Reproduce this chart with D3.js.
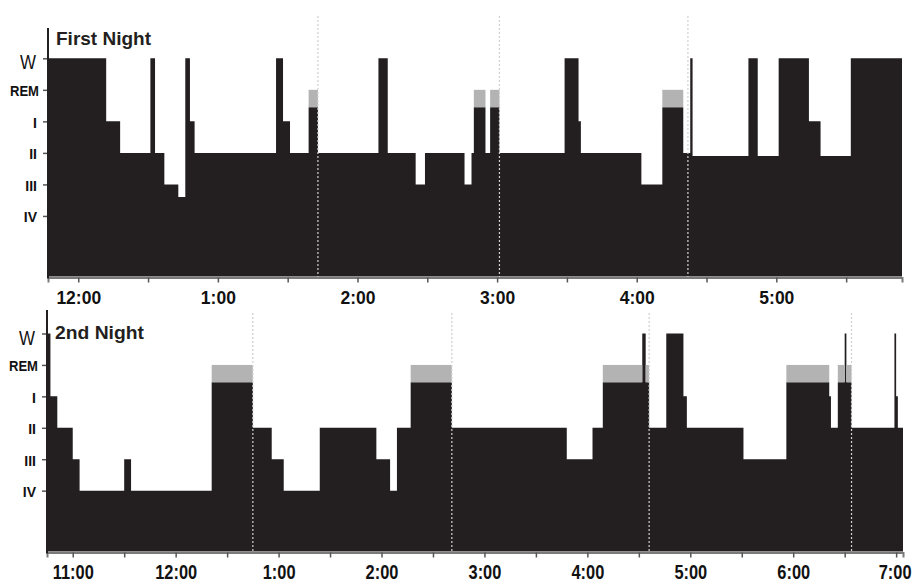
<!DOCTYPE html>
<html><head><meta charset="utf-8">
<script src="https://cdn.jsdelivr.net/npm/d3@7"></script>
<style>html,body{margin:0;padding:0;background:#fff;} svg{display:block;}</style>
</head><body>
<svg id="chart" width="919" height="581"></svg>
<script>
// ---- data ----
const stageLabels = ["IV", "III", "II", "I", "REM", "W"];
const stageLevels = [2, 3, 4, 5, 6, 7];

const night1Title = "First Night";
const night1Times = ["23:47","00:12","00:18","00:31","00:33","00:37","00:43","00:46","00:48","00:50",
  "01:25","01:28","01:31","01:39","01:43","02:09","02:13","02:25","02:29","02:46","02:49","02:50",
  "02:55","02:57","03:01","03:29","03:35","03:36","04:02","04:11","04:20","04:23","04:24","04:48",
  "04:52","05:01","05:14","05:19","05:32"];
const night1Stages = [7,5,4,7,4,3,2.6,7,5,4,
  7,5,4,6,4,7,4,3,4,3,4,6,
  4,6,4,7,5,4,3,6,4,7,3.9,7,
  3.9,7,5,3.9,7];
const night1End = "05:54";
const night1Cycles = ["01:43","03:01","04:22"];

const night2Title = "2nd Night";
const night2Times = ["22:45","22:47","22:51","23:00","23:04","23:30","23:34","00:21","00:45","00:56",
  "01:03","01:24","01:57","02:05","02:09","02:17","02:41","03:48","04:03","04:09","04:32","04:34",
  "04:36","04:46","04:56","04:58","05:31","05:56","06:21","06:22","06:26","06:30","06:31","06:34",
  "06:59","07:00","07:01"];
const night2Stages = [7,5,4,3,2,3,2,6,4,3,
  2,4,3,2,4,6,4,3,4,6,7,6,
  4,7,5,4,3,6,5,4,6,7,6,4,
  7,5,4];
const night2End = "07:04";
const night2Cycles = ["00:45","02:41","04:36","06:34"];

// ---- style ----
const BLACK = "#231f20", GRAY = "#b3b3b3";
const REM_BLACK = 5.45;
const W_PAGE = 919;
const svg = d3.select("#chart");
const parseClock = s => { const [h, m] = s.split(":").map(Number); return new Date(2000, 0, h < 12 ? 2 : 1, h, m); };
const fmtHour = d3.timeFormat("%-I:%M");

function drawPanel(c) {
  const times = c.times.map(parseClock);
  const endT = parseClock(c.end);
  const x = d3.scaleTime().domain([times[0], endT]).range([c.left, c.right]);
  const y = d3.scaleLinear().domain([0, 7]).range([c.base, c.top]);
  const g = svg.append("g");

  const pts = times.map((t, i) => ({ t, v: c.stages[i] === 6 ? REM_BLACK : c.stages[i] }));
  pts.push({ t: endT, v: pts[pts.length - 1].v });
  const area = d3.area().curve(d3.curveStepAfter).x(d => x(d.t)).y0(c.axisY - 1).y1(d => y(d.v));
  g.append("path").datum(pts).attr("d", area).attr("fill", BLACK);

  const segs = times.map((t, i) => ({ t0: t, t1: i + 1 < times.length ? times[i + 1] : endT, s: c.stages[i] }));
  g.selectAll("rect.rem").data(segs.filter(d => d.s === 6)).join("rect")
    .attr("class", "rem")
    .attr("x", d => x(d.t0)).attr("width", d => x(d.t1) - x(d.t0))
    .attr("y", y(6)).attr("height", y(REM_BLACK) - y(6))
    .attr("fill", GRAY);

  // cycle markers
  g.selectAll("line.cyc").data(c.cycles.map(parseClock)).join("line")
    .attr("class", "cyc")
    .attr("x1", d => x(d)).attr("x2", d => x(d))
    .attr("y1", c.markTop).attr("y2", c.axisY)
    .attr("stroke", "#d0d0d0").attr("stroke-width", 1.2).attr("stroke-dasharray", "2,2");

  // x axis
  const xa = d3.axisBottom(x).ticks(d3.timeMinute.every(30)).tickSize(5)
    .tickFormat(d => d.getMinutes() === 0 ? fmtHour(d) : "");
  const ax = g.append("g").attr("transform", `translate(0,${c.axisY})`).call(xa);
  ax.select(".domain").attr("stroke", "#7a7a7a").attr("stroke-width", 2);
  ax.selectAll(".tick line").attr("stroke", "#555").attr("stroke-width", 1.5);
  ax.selectAll(".tick text")
    .attr("y", 26).attr("dy", 0)
    .attr("fill", "#111")
    .style("font-family", "'Liberation Sans', Arial, sans-serif")
    .style("font-weight", "bold")
    .style("font-size", c.tickFont + "px")
    .each(function (d) {
      if (!this.textContent) return;
      const t = d3.select(this);
      let w = this.getComputedTextLength();
      if (c.squeeze < 1) {
        w = w * c.squeeze;
        t.attr("textLength", w).attr("lengthAdjust", "spacingAndGlyphs");
      }
      // keep the last label inside the page
      const over = x(d) + w / 2 - (W_PAGE - 8);
      if (over > 0) t.attr("x", -over);
    });

  // y axis line
  g.append("line").attr("x1", c.left).attr("x2", c.left)
    .attr("y1", c.axisTop).attr("y2", c.axisY + 1)
    .attr("stroke", BLACK).attr("stroke-width", 2);

  // y ticks + labels
  const ya = d3.axisLeft(y).tickValues(stageLevels).tickSize(4)
    .tickFormat((d, i) => stageLabels[i]);
  const ay = g.append("g").attr("transform", `translate(${c.left - 1},0)`).call(ya);
  ay.select(".domain").remove();
  ay.selectAll(".tick line").attr("stroke", "#555").attr("stroke-width", 1.5);
  ay.selectAll(".tick text")
    .attr("x", -10).attr("dy", "0.42em")
    .attr("fill", "#111")
    .style("font-family", "'Liberation Sans', Arial, sans-serif")
    .style("font-weight", "bold")
    .style("font-size", "14px")
    .each(function (d) {
      const t = d3.select(this);
      if (d === 7) {
        t.style("font-size", "21px").style("font-weight", "normal")
          .attr("dy", "0.5em").attr("x", -11)
          .attr("textLength", 16).attr("lengthAdjust", "spacingAndGlyphs");
      } else if (d === 6) {
        t.attr("x", -8).attr("textLength", 29).attr("lengthAdjust", "spacingAndGlyphs");
      }
    });

  // title
  g.append("text").attr("x", c.left + 8).attr("y", c.titleY)
    .text(c.title)
    .attr("fill", BLACK)
    .style("font-family", "'Liberation Sans', Arial, sans-serif")
    .style("font-weight", "bold")
    .style("font-size", "19px")
    .attr("textLength", c.titleW).attr("lengthAdjust", "spacingAndGlyphs");
}

drawPanel({
  title: night1Title, times: night1Times, stages: night1Stages, end: night1End, cycles: night1Cycles,
  left: 48, right: 902, top: 58.3, base: 279, axisY: 277.5, axisTop: 28, markTop: 16,
  titleY: 45, titleW: 95, tickFont: 17.5, squeeze: 1
});
drawPanel({
  title: night2Title, times: night2Times, stages: night2Stages, end: night2End, cycles: night2Cycles,
  left: 47, right: 903, top: 333.5, base: 553.5, axisY: 552.5, axisTop: 310, markTop: 313,
  titleY: 339, titleW: 89, tickFont: 20.5, squeeze: 0.8
});
</script>
</body></html>
